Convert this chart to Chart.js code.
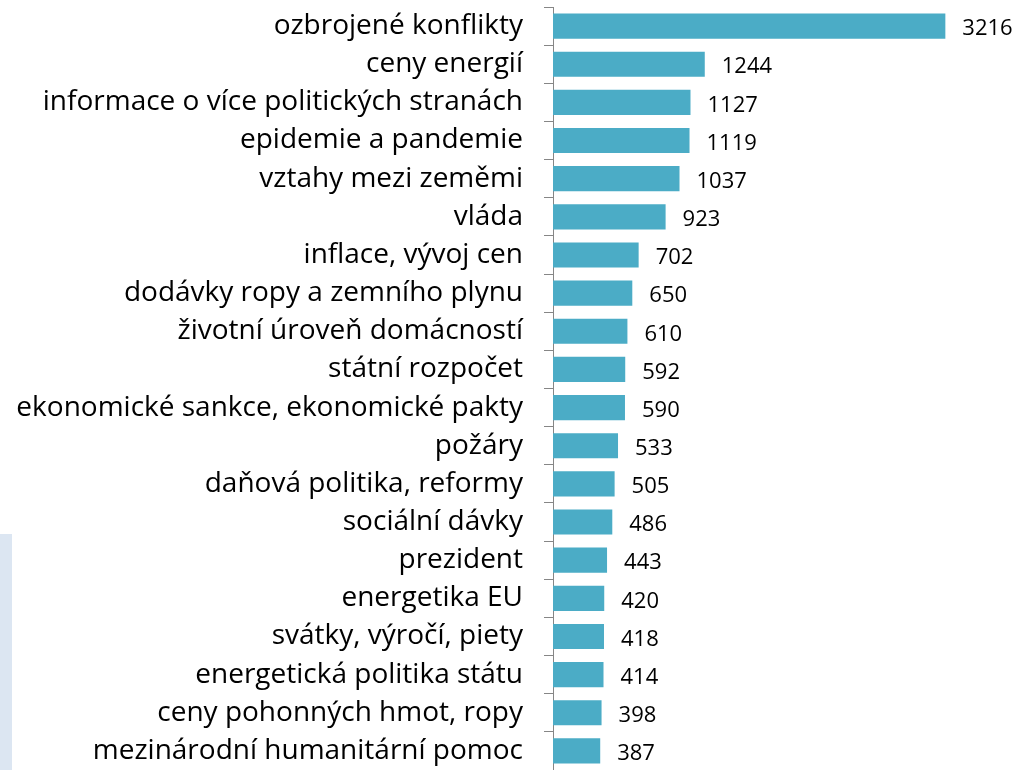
<!DOCTYPE html>
<html lang="cs">
<head>
  <meta charset="UTF-8" />
  <title>Témata</title>
  <script src="https://cdn.jsdelivr.net/npm/chart.js@4.4.0/dist/chart.umd.min.js"></script>
  <style>
    html, body { margin: 0; padding: 0; background: #fff; }
    #wrap { position: relative; width: 1033px; height: 770px; }
    #stripe { position: absolute; left: 0; top: 534px; width: 12px; height: 236px; background: #dce6f2; }
  </style>
</head>
<body>
  <div id="wrap">
    <div id="stripe"></div>
    <canvas id="chart" width="1033" height="770"></canvas>
  </div>
  <script>
    const categories = [
      'ozbrojené konflikty', 'ceny energií', 'informace o více politických stranách',
      'epidemie a pandemie', 'vztahy mezi zeměmi', 'vláda', 'inflace, vývoj cen',
      'dodávky ropy a zemního plynu', 'životní úroveň domácností', 'státní rozpočet',
      'ekonomické sankce, ekonomické pakty', 'požáry', 'daňová politika, reformy',
      'sociální dávky', 'prezident', 'energetika EU', 'svátky, výročí, piety',
      'energetická politika státu', 'ceny pohonných hmot, ropy', 'mezinárodní humanitární pomoc'
    ];
    const counts = [3216, 1244, 1127, 1119, 1037, 923, 702, 650, 610, 592,
                    590, 533, 505, 486, 443, 420, 418, 414, 398, 387];

    Chart.defaults.font.family = '"Open Sans", sans-serif';

    // values next to the bar ends
    const valueLabels = {
      id: 'valueLabels',
      afterDatasetsDraw(chart) {
        const ctx = chart.ctx;
        const meta = chart.getDatasetMeta(0);
        ctx.save();
        ctx.font = '22px "Open Sans", sans-serif';
        ctx.fillStyle = '#000';
        ctx.textAlign = 'left';
        ctx.textBaseline = 'middle';
        meta.data.forEach((bar, i) => {
          ctx.fillText(counts[i], bar.x + 17, bar.y + 3);
        });
        ctx.restore();
      }
    };

    new Chart(document.getElementById('chart'), {
      type: 'bar',
      data: {
        labels: categories,
        datasets: [{
          data: counts,
          backgroundColor: '#4bacc6',
          barPercentage: 0.66,
          categoryPercentage: 1
        }]
      },
      options: {
        indexAxis: 'y',
        responsive: false,
        animation: false,
        layout: { padding: { top: 7, right: 53, bottom: 0, left: 0 } },
        plugins: { legend: { display: false }, tooltip: { enabled: false } },
        scales: {
          x: { display: false, min: 0, max: 3500 },
          y: {
            afterFit(scale) {
              scale.width = 553;
              scale.paddingTop = 0;
              scale.paddingBottom = 0;
            },
            border: { display: true, color: '#868686', width: 1 },
            grid: {
              offset: true,
              drawOnChartArea: false,
              drawTicks: true,
              tickLength: 9,
              color: '#868686'
            },
            ticks: {
              color: '#000',
              font: { size: 28 },
              padding: 21
            }
          }
        }
      },
      plugins: [valueLabels]
    });
  </script>
</body>
</html>
